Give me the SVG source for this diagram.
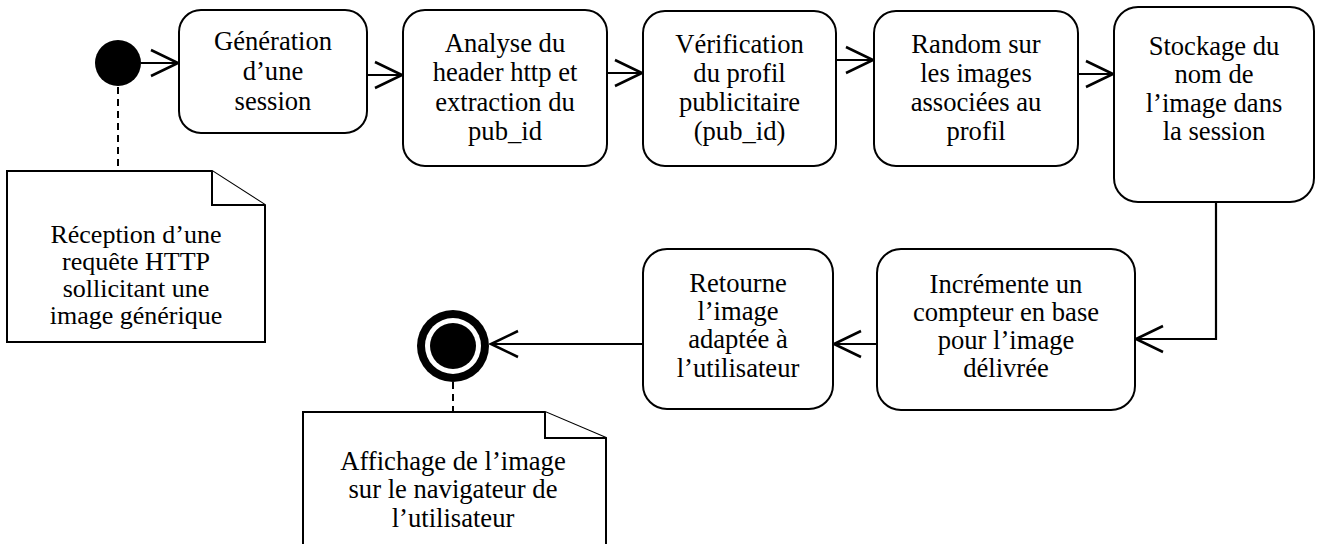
<svg xmlns="http://www.w3.org/2000/svg" width="1317" height="544" viewBox="0 0 1317 544">
<defs>
<style>
.box{fill:#fff;stroke:#000;stroke-width:2}
.note{fill:#fff;stroke:#000;stroke-width:2;stroke-linejoin:miter}
.t{font-family:'Liberation Serif','Times New Roman',Tinos,'DejaVu Serif',serif;font-size:26.6px;fill:#000;text-anchor:middle}
.s{font-size:26px}
.c{fill:none;stroke:#000;stroke-width:2.2}
.d{fill:none;stroke:#000;stroke-width:2;stroke-dasharray:7 5}
</style>
<marker id="a" viewBox="0 0 30 30" refX="28" refY="15" markerWidth="30" markerHeight="30" markerUnits="userSpaceOnUse" orient="auto">
<path d="M1,2 L28,15 L1,28" fill="none" stroke="#000" stroke-width="2.5"/>
</marker>
</defs>
<rect width="1317" height="544" fill="#fff"/>
<g id="connectors">
<line class="c" x1="141" y1="63" x2="178" y2="63" marker-end="url(#a)"/>
<line class="c" x1="367" y1="75" x2="402" y2="75" marker-end="url(#a)"/>
<line class="c" x1="607" y1="73" x2="642" y2="73" marker-end="url(#a)"/>
<line class="c" x1="836" y1="60" x2="873" y2="60" marker-end="url(#a)"/>
<line class="c" x1="1078" y1="74" x2="1113" y2="74" marker-end="url(#a)"/>
<polyline class="c" points="1216,202 1216,339 1136,339" marker-end="url(#a)"/>
<line class="c" x1="877" y1="344" x2="834" y2="344" marker-end="url(#a)"/>
<line class="c" x1="643" y1="344" x2="491" y2="344" marker-end="url(#a)"/>
<line class="d" x1="118" y1="87" x2="118" y2="171"/>
<line class="d" x1="453" y1="382" x2="453" y2="412"/>
</g>
<g id="start"><circle cx="118" cy="63" r="23" fill="#000"/></g>
<g id="end">
<circle cx="453" cy="346" r="36" fill="#000"/>
<circle cx="453" cy="346" r="28" fill="#fff"/>
<circle cx="453" cy="346" r="23" fill="#000"/>
</g>
<g id="n1">
<rect class="box" x="179" y="10" width="188" height="123" rx="22"/>
<text class="t" x="273" y="50">Génération</text>
<text class="t" x="273" y="80">d’une</text>
<text class="t" x="273" y="110">session</text>
</g>
<g id="n2">
<rect class="box" x="403" y="10" width="204" height="156" rx="22"/>
<text class="t" x="505" y="52">Analyse du</text>
<text class="t" x="505" y="81">header http et</text>
<text class="t" x="505" y="111">extraction du</text>
<text class="t" x="505" y="140">pub_id</text>
</g>
<g id="n3">
<rect class="box" x="643" y="11" width="193" height="155" rx="22"/>
<text class="t" x="739.5" y="53">Vérification</text>
<text class="t" x="739.5" y="82">du profil</text>
<text class="t" x="739.5" y="111">publicitaire</text>
<text class="t" x="739.5" y="140">(pub_id)</text>
</g>
<g id="n4">
<rect class="box" x="874" y="11" width="204" height="155" rx="22"/>
<text class="t" x="976" y="53">Random sur</text>
<text class="t" x="976" y="82">les images</text>
<text class="t" x="976" y="111">associées au</text>
<text class="t" x="976" y="140">profil</text>
</g>
<g id="n5">
<rect class="box" x="1114" y="7" width="200" height="195" rx="24"/>
<text class="t" x="1214" y="55">Stockage du</text>
<text class="t" x="1214" y="83">nom de</text>
<text class="t" x="1214" y="112">l’image dans</text>
<text class="t" x="1214" y="140">la session</text>
</g>
<g id="n6">
<rect class="box" x="877" y="249" width="258" height="161" rx="24"/>
<text class="t" x="1006" y="293">Incrémente un</text>
<text class="t" x="1006" y="321">compteur en base</text>
<text class="t" x="1006" y="349">pour l’image</text>
<text class="t" x="1006" y="377">délivrée</text>
</g>
<g id="n7">
<rect class="box" x="643" y="249" width="190" height="160" rx="24"/>
<text class="t" x="738" y="292">Retourne</text>
<text class="t" x="738" y="320">l’image</text>
<text class="t" x="738" y="348">adaptée à</text>
<text class="t" x="738" y="377">l’utilisateur</text>
</g>
<g id="note1">
<path class="note" d="M7,171 L212,171 L265,205 L265,342 L7,342 Z"/>
<path class="note" d="M212,171 L212,205 L265,205" fill="none"/>
<text class="t s" x="136" y="243">Réception d’une</text>
<text class="t s" x="136" y="270">requête HTTP</text>
<text class="t s" x="136" y="297">sollicitant une</text>
<text class="t s" x="136" y="324">image générique</text>
</g>
<g id="note2">
<path class="note" d="M303,412 L545,412 L606,438 L606,550 L303,550 Z"/>
<path class="note" d="M545,412 L545,438 L606,438" fill="none"/>
<text class="t" x="453" y="470">Affichage de l’image</text>
<text class="t" x="453" y="498">sur le navigateur de</text>
<text class="t" x="453" y="527">l’utilisateur</text>
</g>
</svg>
